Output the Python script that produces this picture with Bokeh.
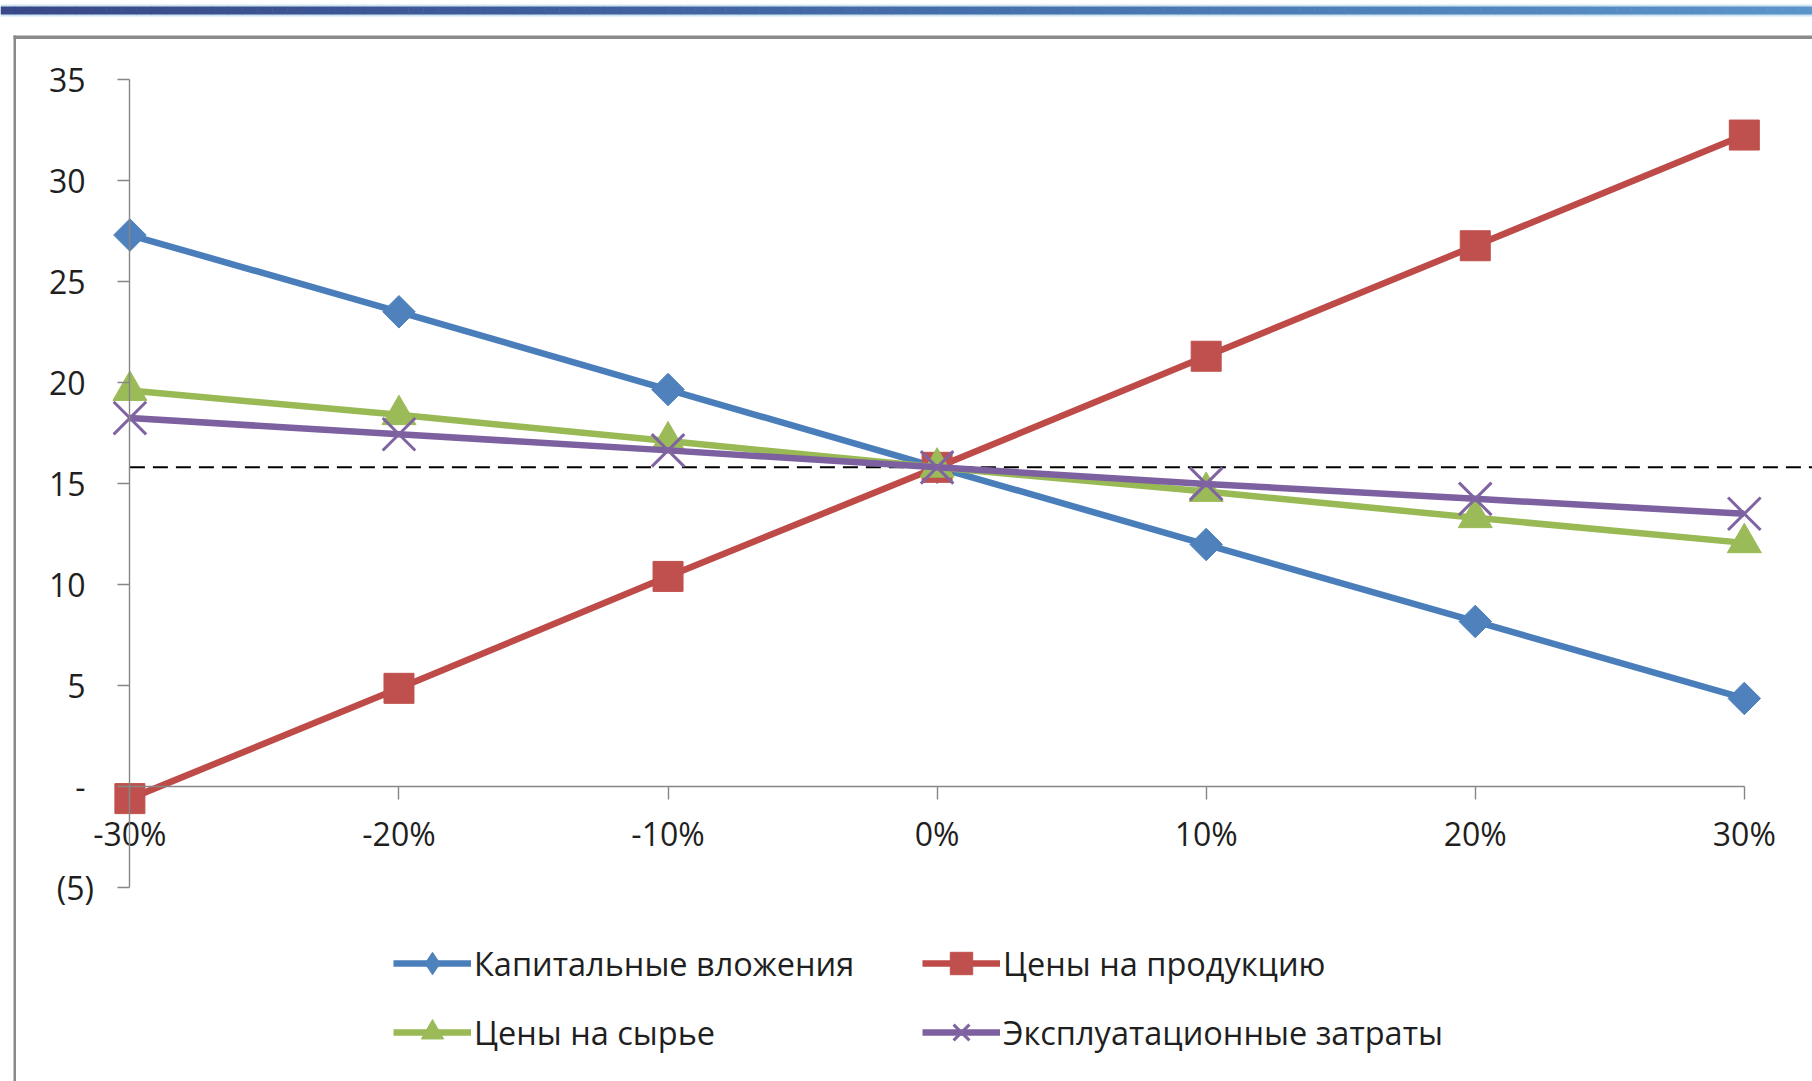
from bokeh.plotting import figure
from bokeh.models import (LinearAxis, FixedTicker, Legend, LegendItem,
                          ColumnDataSource)
from bokeh.embed import file_html
from bokeh.resources import INLINE

# ---- data -------------------------------------------------------------
changes = [-30, -20, -10, 0, 10, 20, 30]
change_labels = ["-30%", "-20%", "-10%", "0%", "10%", "20%", "30%"]

capital_investment = [27.3, 23.5, 19.65, 15.8, 11.98, 8.17, 4.36]
product_prices = [-0.6, 4.86, 10.4, 15.8, 21.3, 26.77, 32.25]
raw_material_prices = [19.6, 18.4, 17.1, 15.8, 14.6, 13.3, 12.06]
operating_costs = [18.24, 17.44, 16.64, 15.8, 14.98, 14.24, 13.5]
base_value = 15.8

series_names = ["Капитальные вложения", "Цены на продукцию",
                "Цены на сырье", "Эксплуатационные затраты"]

y_ticks = [-5, 0, 5, 10, 15, 20, 25, 30, 35]
y_tick_labels = ["(5)", "-", "5", "10", "15", "20", "25", "30", "35"]

# ---- canvas / scales ---------------------------------------------------
W, H = 1812, 1081
PX_X = 26.907          # pixels per percentage point
PX_Y = 20.2            # pixels per value unit
X_ORIGIN = 129.4       # screen x of the first category
Y_ZERO = 786.0         # screen y of value 0

x_start = -30 - X_ORIGIN / PX_X
x_end = x_start + W / PX_X
y_end = Y_ZERO / PX_Y
y_start = y_end - H / PX_Y


def sx(px):
    return x_start + px / PX_X


def sy(py):
    return y_end - py / PX_Y


p = figure(width=W, height=H, x_range=(x_start, x_end), y_range=(y_start, y_end),
           output_backend="svg", toolbar_location=None,
           x_axis_location=None, y_axis_location=None, min_border=0)
p.outline_line_color = None
p.background_fill_color = "white"
p.border_fill_color = "white"
p.xgrid.grid_line_color = None
p.ygrid.grid_line_color = None

FONT = "Open Sans"
TEXT = "#1f1f1f"
AXIS = "#868686"

# ---- page decoration: gradient rule and panel border -------------------
n_steps = 120
c_left = (56, 72, 136)
c_mid = (70, 112, 172)
c_right = (90, 148, 200)
lefts, rights, cols = [], [], []
for i in range(n_steps):
    t = i / (n_steps - 1)
    if t < 0.55:
        u = t / 0.55
        c = [round(a + (b - a) * u) for a, b in zip(c_left, c_mid)]
    else:
        u = (t - 0.55) / 0.45
        c = [round(a + (b - a) * u) for a, b in zip(c_mid, c_right)]
    lefts.append(sx(W * i / n_steps))
    rights.append(sx(W * (i + 1) / n_steps + 0.5))
    cols.append("#%02x%02x%02x" % tuple(c))
p.quad(left=sx(0), right=sx(W), top=sy(4), bottom=sy(16), color="#cfe6f2", line_color=None)
p.quad(left=lefts, right=rights, top=sy(6), bottom=sy(14), color=cols, line_color=None)

p.quad(left=sx(13), right=sx(W), top=sy(35), bottom=sy(38.5), color="#8a8a8a", line_color=None)
p.quad(left=sx(13), right=sx(15.5), top=sy(35), bottom=sy(H), color="#8a8a8a", line_color=None)

# ---- axes --------------------------------------------------------------
yaxis = LinearAxis(fixed_location=-30, bounds=(-5, 35),
                   ticker=FixedTicker(ticks=y_ticks),
                   major_label_overrides={t: (l if l.startswith("(") else l + "\u2008")
                                          for t, l in zip(y_ticks, y_tick_labels)})
xaxis = LinearAxis(fixed_location=0, bounds=(-30, 30),
                   ticker=FixedTicker(ticks=changes),
                   major_label_overrides=dict(zip(changes, change_labels)))
for ax in (yaxis, xaxis):
    ax.axis_line_color = AXIS
    ax.axis_line_width = 1.4
    ax.major_tick_line_color = AXIS
    ax.major_tick_line_width = 1.4
    ax.major_tick_in = 0
    ax.minor_tick_line_color = None
    ax.major_label_text_font = FONT
    ax.major_label_text_font_size = "32px"
    ax.major_label_text_color = TEXT
yaxis.major_tick_out = 12
yaxis.major_label_standoff = 24
xaxis.major_tick_out = 13
xaxis.major_label_standoff = 12
p.add_layout(yaxis, "left")
p.add_layout(xaxis, "below")

# ---- base level reference line ----------------------------------------
p.line([-30, x_end], [base_value, base_value], line_color="black",
       line_width=2, line_dash="15 8")

# ---- series ------------------------------------------------------------
styles = [
    (capital_investment, "#4a7ebb", "#4f81bd", "square", 23, 0.785398, "diamond"),
    (product_prices, "#be4b48", "#c0504d", "square", 30, 0.0, None),
    (raw_material_prices, "#98b954", "#9bbb59", "triangle", 34, 0.0, None),
    (operating_costs, "#7d60a0", "#8064a2", "x", 46, 0.0, None),
]

items = []
for name, (vals, lc, mc, marker, size, angle, legend_marker) in zip(series_names, styles):
    src = ColumnDataSource(dict(x=changes, y=vals))
    lr = p.line("x", "y", source=src, line_color=lc, line_width=6.5)
    if marker == "x":
        mr = p.scatter("x", "y", source=src, marker="x", size=size,
                       line_color=mc, line_width=3)
    else:
        mr = p.scatter("x", "y", source=src, marker=marker, size=size, angle=angle,
                       fill_color=mc, line_color=mc, line_width=1)
    if legend_marker is not None:
        proxy = p.scatter(x=[float("nan")], y=[float("nan")], marker=legend_marker,
                          size=size, fill_color=mc, line_color=mc)
        items.append(LegendItem(label=name, renderers=[lr, proxy]))
    else:
        items.append(LegendItem(label=name, renderers=[lr, mr]))

legend = Legend(items=items, orientation="horizontal", ncols=2,
                location=(393, 21))
legend.glyph_width = 78
legend.glyph_height = 56
legend.label_standoff = 3
legend.spacing = 13
legend.padding = 0
legend.margin = 0
legend.border_line_color = None
legend.background_fill_alpha = 0
legend.label_text_font = FONT
legend.label_text_font_size = "32.5px"
legend.label_text_color = TEXT
legend.label_height = 56
legend.label_width = 435
p.add_layout(legend)

open("out.html", "w").write(file_html(p, INLINE))
